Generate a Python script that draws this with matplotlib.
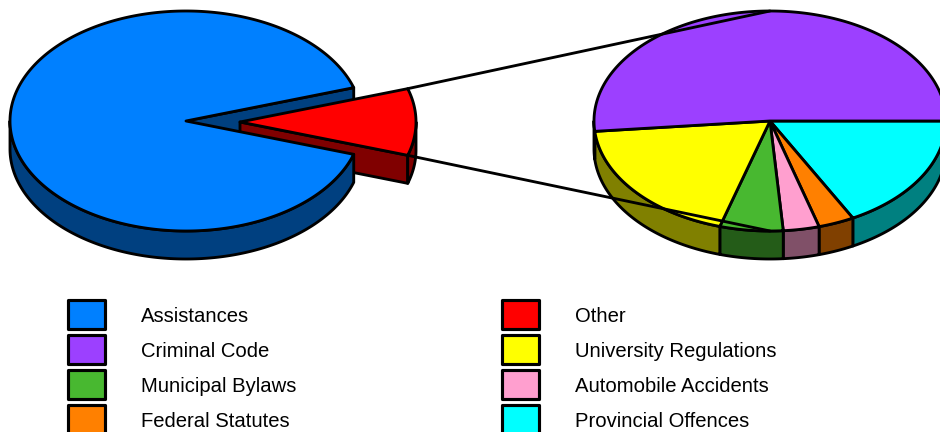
import numpy as np
import matplotlib
matplotlib.use("Agg")
import matplotlib.pyplot as plt
from matplotlib.patches import Polygon, Rectangle

plt.rcParams['font.family'] = ['Liberation Sans', 'DejaVu Sans']

# data
main_labels = ["Assistances", "Other"]
main_values = [90.2, 9.8]
sub_labels = ["Provincial Offences", "Federal Statutes", "Automobile Accidents",
              "Municipal Bylaws", "University Regulations", "Criminal Code"]
sub_values = [17.2, 3.3, 3.3, 5.8, 18.9, 51.5]
legend_left = ["Assistances", "Criminal Code", "Municipal Bylaws", "Federal Statutes"]
legend_right = ["Other", "University Regulations", "Automobile Accidents", "Provincial Offences"]
colors = {"Assistances": "#0080FF", "Other": "#FF0000", "Criminal Code": "#9C40FF",
          "University Regulations": "#FFFF00", "Municipal Bylaws": "#48B830",
          "Automobile Accidents": "#FF9FCF", "Federal Statutes": "#FF8000",
          "Provincial Offences": "#00FFFF"}
shades = {"Assistances": "#004080", "Other": "#800000", "Criminal Code": "#4E2080",
          "University Regulations": "#808000", "Municipal Bylaws": "#245C18",
          "Automobile Accidents": "#805068", "Federal Statutes": "#804000",
          "Provincial Offences": "#008080"}

RX, RY, DEPTH = 176, 110, 28
LW = 2.05
fig = plt.figure(figsize=(9.4, 4.32), dpi=100)
ax = fig.add_axes([0, 0, 1, 1])
ax.set_xlim(0, 940)
ax.set_ylim(432, 0)
ax.axis("off")


def pt(c, t, dy=0):
    r = np.radians(t)
    return np.column_stack([c[0] + RX * np.cos(r), c[1] + RY * np.sin(r) + dy])


def arc(c, a, b, dy=0):
    return pt(c, np.linspace(a, b, max(int(abs(b - a)) * 2, 2)), dy)


def poly(xy, fc, z):
    ax.add_patch(Polygon(xy, closed=True, fc=fc, ec="black", lw=LW,
                         joinstyle="round", zorder=z))


def top(c, a, b, fc, z):
    poly(np.vstack([[c], arc(c, a, b)]), fc, z)


def rim(c, a, b, fc, z):
    lo, hi = max(a, 0), min(b, 180)
    if hi > lo:
        poly(np.vstack([arc(c, lo, hi), arc(c, hi, lo, DEPTH)]), fc, z)


def cut_face(c, t, fc, z):
    e = pt(c, np.array([t]))[0]
    poly([c, e, e + [0, DEPTH], np.array(c) + [0, DEPTH]], fc, z)


# main pie: "Other" is pulled out, centred on the right-hand axis
half = main_values[1] * 3.6 / 2
c_main = (186, 121)
c_other = (240, 122)
cut_face(c_main, -half, shades["Assistances"], 1)
cut_face(c_other, half, shades["Other"], 2)
rim(c_other, -half, half, shades["Other"], 3)
rim(c_main, half, 360 - half, shades["Assistances"], 4)
top(c_main, half, 360 - half, colors["Assistances"], 5)
top(c_other, -half, half, colors["Other"], 6)

# breakdown pie
c_sub = (770, 121)
a = 0.0
for lab, v in zip(sub_labels, sub_values):
    b = a + v * 3.6
    rim(c_sub, a, b, shades[lab], 3)
    top(c_sub, a, b, colors[lab], 5)
    a = b

# connectors
e1 = pt(c_other, np.array([-half]))[0]
e2 = pt(c_other, np.array([half]))[0]
for e, t in ((e1, 270), (e2, 90)):
    f = pt(c_sub, np.array([t]))[0]
    ax.plot([e[0], f[0]], [e[1], f[1]], color="black", lw=LW, zorder=7,
            solid_capstyle="round")

# legend
for labels, xbox, xtext in ((legend_left, 68, 141), (legend_right, 502, 575)):
    for i, lab in enumerate(labels):
        y = 300 + 35 * i
        ax.add_patch(Rectangle((xbox, y), 37, 29, fc=colors[lab], ec="black",
                               lw=LW + 0.2, joinstyle="round", zorder=5))
        ax.text(xtext, y + 16.5, lab, fontsize=14.6, va="center", ha="left",
                color="black")

fig.savefig("out.png", dpi=100, facecolor="white")
